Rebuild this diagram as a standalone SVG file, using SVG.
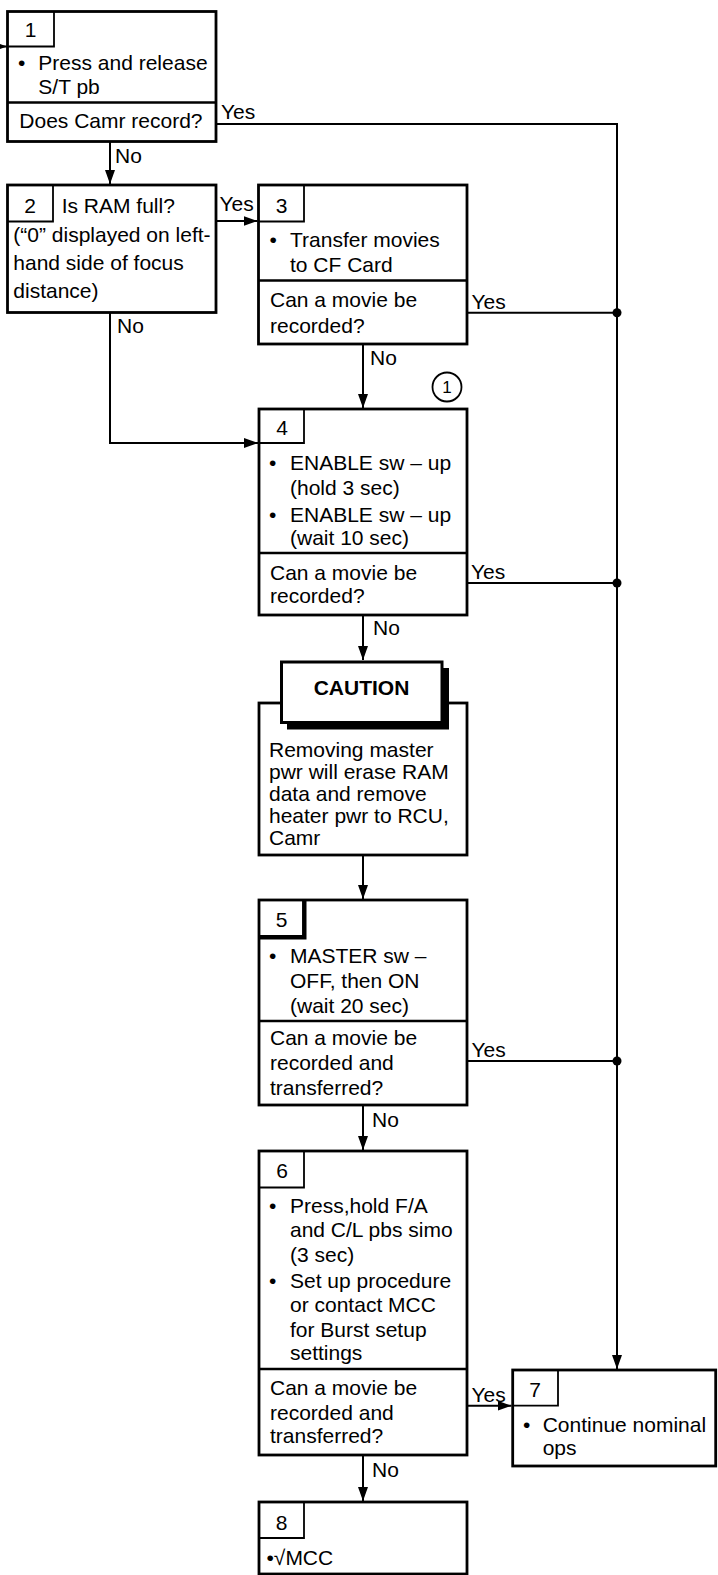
<svg xmlns="http://www.w3.org/2000/svg" width="718" height="1575" viewBox="0 0 718 1575">
<style>
.box{fill:#fff;stroke:#000;stroke-width:2.8}
.num{fill:none;stroke:#000;stroke-width:1.8}
.div{stroke:#000;stroke-width:2.6}
.t{font-family:"Liberation Sans",Arial,sans-serif;font-size:21px;fill:#000}
.c{text-anchor:middle}
.con{fill:none;stroke:#000;stroke-width:2}
.b{font-weight:bold}
</style>
<defs>
<marker id="ah" viewBox="0 0 14 10" refX="14" refY="5" markerWidth="14" markerHeight="10" markerUnits="userSpaceOnUse" orient="auto">
<path d="M0,0 L14,5 L0,10 Z" fill="#000"/>
</marker>
</defs>
<rect width="718" height="1575" fill="#fff"/>

<g id="connectors">
<path class="con" d="M-8,46.5 H7" marker-end="url(#ah)"/>
<path class="con" d="M216,124 H617 V1369" marker-end="url(#ah)"/>
<path class="con" d="M110,141.5 V184" marker-end="url(#ah)"/>
<path class="con" d="M216,221 H257.5" marker-end="url(#ah)"/>
<path class="con" d="M110,312.5 V443 H258" marker-end="url(#ah)"/>
<path class="con" d="M467,312.7 H617"/>
<path class="con" d="M363,344 V408" marker-end="url(#ah)"/>
<path class="con" d="M467,583 H617"/>
<path class="con" d="M363,615 V660" marker-end="url(#ah)"/>
<path class="con" d="M363,855 V899" marker-end="url(#ah)"/>
<path class="con" d="M467,1061 H617"/>
<path class="con" d="M363,1105 V1150" marker-end="url(#ah)"/>
<path class="con" d="M467,1405.7 H511.5" marker-end="url(#ah)"/>
<path class="con" d="M363,1455 V1501" marker-end="url(#ah)"/>
<circle cx="617" cy="312.7" r="4.5" fill="#000"/>
<circle cx="617" cy="583" r="4.5" fill="#000"/>
<circle cx="617" cy="1061" r="4.5" fill="#000"/>
<text class="t" x="221" y="118.5">Yes</text>
<text class="t" x="115" y="162.5">No</text>
<text class="t" x="219.5" y="210.5">Yes</text>
<text class="t" x="117" y="333">No</text>
<text class="t" x="471.5" y="309">Yes</text>
<text class="t" x="370" y="365">No</text>
<text class="t" x="471" y="578.5">Yes</text>
<text class="t" x="373" y="635">No</text>
<text class="t" x="471.5" y="1056.5">Yes</text>
<text class="t" x="372" y="1127">No</text>
<text class="t" x="471.5" y="1401.5">Yes</text>
<text class="t" x="372" y="1477">No</text>
</g>

<g id="node1">
<rect class="box" x="7.5" y="11.5" width="208.5" height="130"/>
<path class="num" d="M7.5,46.5 H54 V11.5"/>
<line class="div" x1="7.5" y1="102.5" x2="216" y2="102.5"/>
<text class="t c" x="30.5" y="37">1</text>
<text class="t" x="18" y="70">•</text>
<text class="t" x="38.3" y="70">Press and release</text>
<text class="t" x="38.3" y="94.3">S/T pb</text>
<text class="t" x="19.3" y="128.3">Does Camr record?</text>
</g>

<g id="node2">
<rect class="box" x="7.5" y="185" width="208.5" height="127.5"/>
<path class="num" d="M7.5,221.5 H53 V185"/>
<text class="t c" x="30" y="212.7">2</text>
<text class="t" x="61.7" y="212.7">Is RAM full?</text>
<text class="t" x="13.3" y="241.7">(“0” displayed on left-</text>
<text class="t" x="13.3" y="270">hand side of focus</text>
<text class="t" x="13.3" y="297.7">distance)</text>
</g>

<g id="node3">
<rect class="box" x="258.5" y="185" width="208.5" height="159"/>
<path class="num" d="M258.5,221.5 H304 V185"/>
<line class="div" x1="258.5" y1="280.5" x2="467" y2="280.5"/>
<text class="t c" x="281.5" y="212.7">3</text>
<text class="t" x="269.5" y="247">•</text>
<text class="t" x="290" y="247">Transfer movies</text>
<text class="t" x="290" y="271.7">to CF Card</text>
<text class="t" x="270" y="306.7">Can a movie be</text>
<text class="t" x="270" y="333">recorded?</text>
</g>

<g id="marker1">
<circle cx="447" cy="387" r="14.5" fill="#fff" stroke="#000" stroke-width="1.8"/>
<text class="t c" x="447" y="393" style="font-size:17px">1</text>
</g>

<g id="node4">
<rect class="box" x="259" y="409" width="208" height="206"/>
<path class="num" d="M259,443 H304 V409"/>
<line class="div" x1="259" y1="553" x2="467" y2="553"/>
<text class="t c" x="282" y="435">4</text>
<text class="t" x="269" y="470">•</text>
<text class="t" x="290" y="470">ENABLE sw – up</text>
<text class="t" x="290" y="495">(hold 3 sec)</text>
<text class="t" x="269" y="521.7">•</text>
<text class="t" x="290" y="521.7">ENABLE sw – up</text>
<text class="t" x="290" y="545">(wait 10 sec)</text>
<text class="t" x="270" y="580">Can a movie be</text>
<text class="t" x="270" y="603">recorded?</text>
</g>

<g id="caution">
<rect class="box" x="259" y="703" width="208" height="152"/>
<rect x="287" y="668" width="162" height="61.5" fill="#000"/>
<rect x="281.5" y="662" width="160.5" height="60.5" fill="#fff" stroke="#000" stroke-width="3"/>
<text class="t c b" x="361.5" y="695">CAUTION</text>
<text class="t" x="269" y="756.5">Removing master</text>
<text class="t" x="269" y="778.5">pwr will erase RAM</text>
<text class="t" x="269" y="800.5">data and remove</text>
<text class="t" x="269" y="822.5">heater pwr to RCU,</text>
<text class="t" x="269" y="844.5">Camr</text>
</g>

<g id="node5">
<rect class="box" x="259" y="900" width="208" height="205"/>
<path class="num" d="M259,936 H303 V900"/>
<path d="M259,937.5 H304.5 V900" fill="none" stroke="#000" stroke-width="4"/>
<line class="div" x1="259" y1="1021" x2="467" y2="1021"/>
<text class="t c" x="281.5" y="927.3">5</text>
<text class="t" x="269" y="963.3">•</text>
<text class="t" x="290" y="963.3">MASTER sw –</text>
<text class="t" x="290" y="988.3">OFF, then ON</text>
<text class="t" x="290" y="1013.3">(wait 20 sec)</text>
<text class="t" x="270" y="1045">Can a movie be</text>
<text class="t" x="270" y="1070">recorded and</text>
<text class="t" x="270" y="1095">transferred?</text>
</g>

<g id="node6">
<rect class="box" x="259" y="1151" width="208" height="304"/>
<path class="num" d="M259,1187.5 H304 V1151"/>
<line class="div" x1="259" y1="1369" x2="467" y2="1369"/>
<text class="t c" x="282" y="1178">6</text>
<text class="t" x="269" y="1213.3">•</text>
<text class="t" x="290" y="1213.3">Press,hold F/A</text>
<text class="t" x="290" y="1236.7">and C/L pbs simo</text>
<text class="t" x="290" y="1261.7">(3 sec)</text>
<text class="t" x="269" y="1288.3">•</text>
<text class="t" x="290" y="1288.3">Set up procedure</text>
<text class="t" x="290" y="1311.7">or contact MCC</text>
<text class="t" x="290" y="1336.7">for Burst setup</text>
<text class="t" x="290" y="1360">settings</text>
<text class="t" x="270" y="1395">Can a movie be</text>
<text class="t" x="270" y="1420">recorded and</text>
<text class="t" x="270" y="1443.3">transferred?</text>
</g>

<g id="node7">
<rect class="box" x="512.7" y="1370" width="203" height="96"/>
<path class="num" d="M512.7,1405.7 H558 V1370"/>
<text class="t c" x="535" y="1396.7">7</text>
<text class="t" x="523" y="1431.7">•</text>
<text class="t" x="542.7" y="1431.7">Continue nominal</text>
<text class="t" x="542.7" y="1455">ops</text>
</g>

<g id="node8">
<rect class="box" x="259" y="1502" width="208" height="72"/>
<path class="num" d="M259,1538 H304 V1502"/>
<text class="t c" x="281.5" y="1530">8</text>
<text class="t" x="266.5" y="1565">•√MCC</text>
</g>
</svg>
